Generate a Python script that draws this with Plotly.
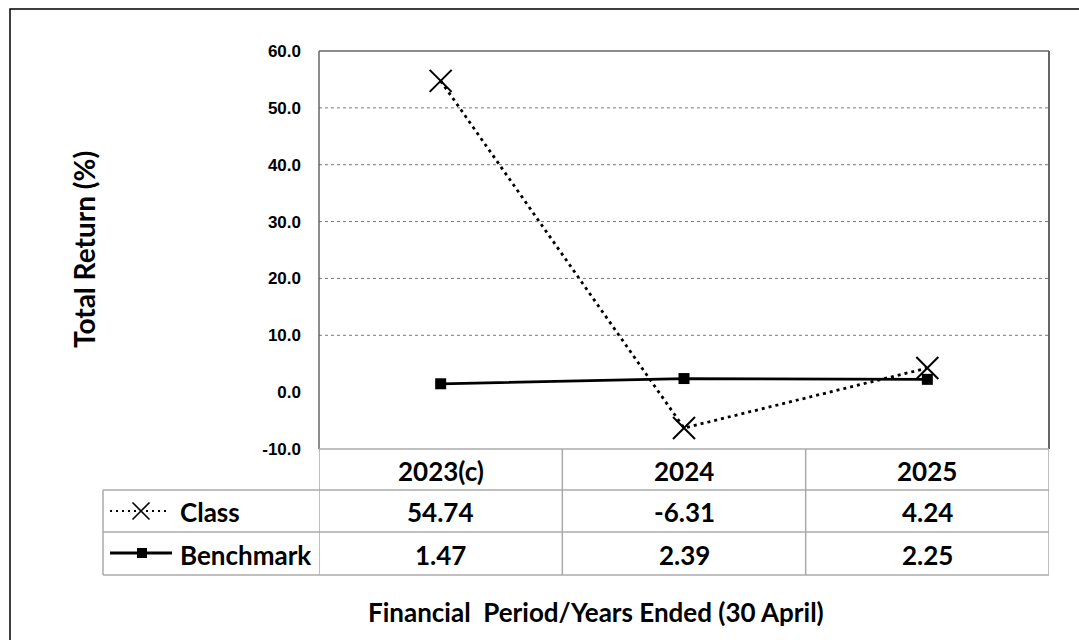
import plotly.graph_objects as go

# Fund performance data
periods = ["2023(c)", "2024", "2025"]
class_returns = [54.74, -6.31, 4.24]
benchmark_returns = [1.47, 2.39, 2.25]
series_names = ["Class", "Benchmark"]
y_ticks = [-10, 0, 10, 20, 30, 40, 50, 60]

W, H = 1079, 640
# plot area in pixels
PL, PR, PT, PB = 319, 1049, 51, 449
TABLE_LEFT = 103
ROW_EDGES = [449, 490, 532, 575]

TXT_FONT = "Lato"
TICK_FONT = "Liberation Sans"

xs = list(range(len(periods)))

fig = go.Figure()

fig.add_trace(go.Scatter(
    x=xs, y=class_returns, mode="lines+markers", name=series_names[0],
    line=dict(color="black", width=2.8, dash="3px,4px"),
    marker=dict(symbol="x-thin", size=22, line=dict(color="black", width=2)),
    xaxis="x", yaxis="y", showlegend=False,
))
fig.add_trace(go.Scatter(
    x=xs, y=benchmark_returns, mode="lines+markers", name=series_names[1],
    line=dict(color="black", width=2.8),
    marker=dict(symbol="square", size=11, color="black"),
    xaxis="x", yaxis="y", showlegend=False,
))

# legend glyphs inside the data table (pixel overlay axes)
fig.add_trace(go.Scatter(
    x=[110, 168], y=[511, 511], mode="lines",
    line=dict(color="black", width=2, dash="2px,4px"),
    xaxis="x2", yaxis="y2", showlegend=False, hoverinfo="skip",
))
fig.add_trace(go.Scatter(
    x=[141], y=[511], mode="markers",
    marker=dict(symbol="x-thin", size=17, line=dict(color="black", width=1.6)),
    xaxis="x2", yaxis="y2", showlegend=False, hoverinfo="skip",
))
fig.add_trace(go.Scatter(
    x=[110, 172], y=[553, 553], mode="lines",
    line=dict(color="black", width=2.8),
    xaxis="x2", yaxis="y2", showlegend=False, hoverinfo="skip",
))
fig.add_trace(go.Scatter(
    x=[142], y=[553], mode="markers",
    marker=dict(symbol="square", size=10, color="black"),
    xaxis="x2", yaxis="y2", showlegend=False, hoverinfo="skip",
))

shapes = []
# outer frame
shapes.append(dict(type="rect", xref="x2", yref="y2", x0=10, y0=9, x1=1090, y1=650,
                   line=dict(color="black", width=1.5)))
# horizontal gridlines
for t in y_ticks[2:-1]:
    shapes.append(dict(type="line", xref="x domain", yref="y", x0=0, x1=1, y0=t, y1=t,
                       line=dict(color="#777777", width=1, dash="dot")))
# plot frame (left, top, right)
grey = "#666666"
shapes.append(dict(type="line", xref="x2", yref="y2", x0=PL, x1=PL, y0=PT, y1=PB,
                   line=dict(color=grey, width=1.5)))
shapes.append(dict(type="line", xref="x2", yref="y2", x0=PL, x1=PR, y0=PT, y1=PT,
                   line=dict(color=grey, width=1.5)))
shapes.append(dict(type="line", xref="x2", yref="y2", x0=PR, x1=PR, y0=PT, y1=PB,
                   line=dict(color=grey, width=2)))
# data table grid
tgrey = "#AAAAAA"
shapes.append(dict(type="line", xref="x2", yref="y2", x0=PL, x1=PR, y0=ROW_EDGES[0], y1=ROW_EDGES[0],
                   line=dict(color=tgrey, width=1.5)))
for yy in ROW_EDGES[1:]:
    shapes.append(dict(type="line", xref="x2", yref="y2", x0=TABLE_LEFT, x1=PR, y0=yy, y1=yy,
                       line=dict(color=tgrey, width=1.5)))
shapes.append(dict(type="line", xref="x2", yref="y2", x0=TABLE_LEFT, x1=TABLE_LEFT,
                   y0=ROW_EDGES[1], y1=ROW_EDGES[-1], line=dict(color=tgrey, width=1.5)))
for i in range(len(periods) + 1):
    xx = -0.5 + i
    shapes.append(dict(type="line", xref="x", yref="y2", x0=xx, x1=xx,
                       y0=ROW_EDGES[0], y1=ROW_EDGES[-1], line=dict(color=tgrey, width=1.5)))

annotations = []
tfont = dict(family=TXT_FONT, size=26, color="black", weight="bold")
row_mid = [(ROW_EDGES[i] + ROW_EDGES[i + 1]) / 2 + 1 for i in range(3)]
for i, p in enumerate(periods):
    annotations.append(dict(x=i, y=row_mid[0], xref="x", yref="y2", text=p,
                            showarrow=False, font=tfont))
    annotations.append(dict(x=i, y=row_mid[1], xref="x", yref="y2", text=f"{class_returns[i]:.2f}",
                            showarrow=False, font=tfont))
    annotations.append(dict(x=i, y=row_mid[2], xref="x", yref="y2", text=f"{benchmark_returns[i]:.2f}",
                            showarrow=False, font=tfont))
for name, ym in zip(series_names, row_mid[1:]):
    annotations.append(dict(x=178, y=ym, xref="x2", yref="y2", text=name, xanchor="left",
                            showarrow=False, font=tfont))
# axis titles
annotations.append(dict(x=84, y=250, xref="x2", yref="y2", text="Total Return (%)", textangle=-90,
                        showarrow=False, font=dict(family=TXT_FONT, size=28, color="black", weight="bold")))
annotations.append(dict(x=596, y=612, xref="x2", yref="y2",
                        text="Financial&nbsp;&nbsp;Period/Years Ended (30 April)",
                        showarrow=False, font=dict(family=TXT_FONT, size=26, color="black", weight="bold")))

fig.update_layout(
    width=W, height=H, autosize=False,
    margin=dict(l=0, r=0, t=0, b=0, autoexpand=False),
    paper_bgcolor="white", plot_bgcolor="rgba(0,0,0,0)",
    xaxis=dict(domain=[PL / W, PR / W], range=[-0.5, len(periods) - 0.5], automargin=False,
               showgrid=False, zeroline=False, showticklabels=False, ticks="", anchor="y"),
    yaxis=dict(domain=[1 - PB / H, 1 - PT / H], range=[-10, 60], tickvals=y_ticks, automargin=False,
               ticktext=[f"{v:.1f}" for v in y_ticks], showgrid=False, zeroline=False,
               ticks="", ticklen=0, tickfont=dict(family=TICK_FONT, size=17, color="black", weight="bold"),
               ticklabelstandoff=17, anchor="x"),
    xaxis2=dict(domain=[0, 1], range=[0, W], visible=False, anchor="y2", automargin=False),
    yaxis2=dict(domain=[0, 1], range=[H, 0], visible=False, anchor="x2", automargin=False),
    shapes=shapes,
    annotations=annotations,
)

fig.write_html("out.html")
